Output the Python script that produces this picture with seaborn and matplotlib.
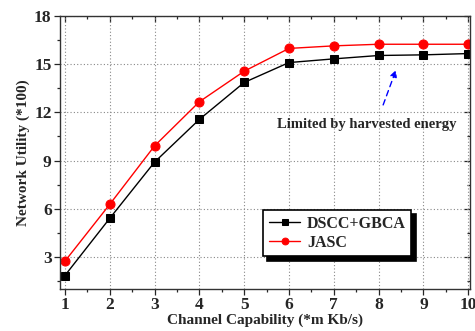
import pandas as pd
import seaborn as sns
import matplotlib.pyplot as plt
from matplotlib.ticker import MultipleLocator, NullFormatter

capability = [1, 2, 3, 4, 5, 6, 7, 8, 9, 10]
dscc_gbca = [1.84, 5.40, 8.90, 11.56, 13.86, 15.10, 15.33, 15.54, 15.58, 15.66]
jasc = [2.73, 6.27, 9.91, 12.66, 14.56, 15.98, 16.14, 16.24, 16.24, 16.24]

df = pd.DataFrame({"cap": capability, "DSCC+GBCA": dscc_gbca, "JASC": jasc})

sns.set_style("ticks")
plt.rcParams["font.family"] = ["Liberation Serif", "DejaVu Serif"]
plt.rcParams["font.weight"] = "bold"

fig = plt.figure(figsize=(4.75, 3.31), dpi=100)
ax = fig.add_axes([0.1263, 0.1269, 0.8632, 0.8248])

sns.lineplot(data=df, x="cap", y="DSCC+GBCA", ax=ax, color="black", marker="s",
             markersize=5.5, markeredgecolor="black", linewidth=1, label="DSCC+GBCA")
sns.lineplot(data=df, x="cap", y="JASC", ax=ax, color="#ff0000", marker="o",
             markersize=6.5, markeredgecolor="#ff0000", linewidth=1, label="JASC")

ax.set_xlim(0.89, 10.04)
ax.set_ylim(1, 18)
ax.xaxis.set_major_locator(MultipleLocator(1))
ax.xaxis.set_minor_locator(MultipleLocator(0.5))
ax.yaxis.set_major_locator(MultipleLocator(3))
ax.yaxis.set_minor_locator(MultipleLocator(1.5))
ax.grid(True, which="major", linestyle=(0, (1, 2)), color="#888888", linewidth=0.8)

for s in ax.spines.values():
    s.set_visible(True)
    s.set_linewidth(1.0)
    s.set_color("#333333")

ax.tick_params(which="both", direction="out", labelsize=12.5, width=0.9, pad=2)
ax.tick_params(which="major", length=4)
ax.tick_params(which="minor", length=2.5)
for lbl in ax.get_xticklabels() + ax.get_yticklabels():
    lbl.set_fontweight("bold")

# inward ticks on top and right, like the original
top = ax.secondary_xaxis("top")
top.xaxis.set_major_locator(MultipleLocator(1))
top.xaxis.set_minor_locator(MultipleLocator(0.5))
top.xaxis.set_major_formatter(NullFormatter())
top.tick_params(which="both", direction="in", width=0.9)
top.tick_params(which="major", length=4)
top.tick_params(which="minor", length=2.5)
right = ax.secondary_yaxis("right")
right.yaxis.set_major_locator(MultipleLocator(3))
right.yaxis.set_minor_locator(MultipleLocator(1.5))
right.yaxis.set_major_formatter(NullFormatter())
right.tick_params(which="both", direction="in", width=0.9)
right.tick_params(which="major", length=4)
right.tick_params(which="minor", length=2.5)
for sec in (top, right):
    for s in sec.spines.values():
        s.set_visible(False)

ax.set_xlabel("Channel Capability (*m Kb/s)", fontsize=11, fontweight="bold", labelpad=0)
ax.set_ylabel("Network Utility (*100)", fontsize=11, fontweight="bold", labelpad=3)

ax.annotate("", xy=(8.41, 14.8), xytext=(8.08, 12.3),
            arrowprops=dict(arrowstyle="-|>", color="blue", linestyle=(0, (4, 3)),
                            linewidth=1.0, mutation_scale=10))
ax.text(7.73, 11.27, "Limited by harvested energy", ha="center", va="center",
        fontsize=10.5, fontweight="bold")

leg = ax.legend(loc="upper left", bbox_to_anchor=(0.495, 0.289), borderaxespad=0,
                fancybox=False, framealpha=1, edgecolor="black", fontsize=11.5,
                handlelength=2.0, handletextpad=0.4, labelspacing=0.2, markerscale=0.75,
                borderpad=0.35, shadow={"ox": 3, "oy": -3, "color": "black", "alpha": 1})
leg.get_frame().set_linewidth(1.2)
for t in leg.get_texts():
    t.set_fontweight("bold")

fig.savefig("out.png", dpi=100)
